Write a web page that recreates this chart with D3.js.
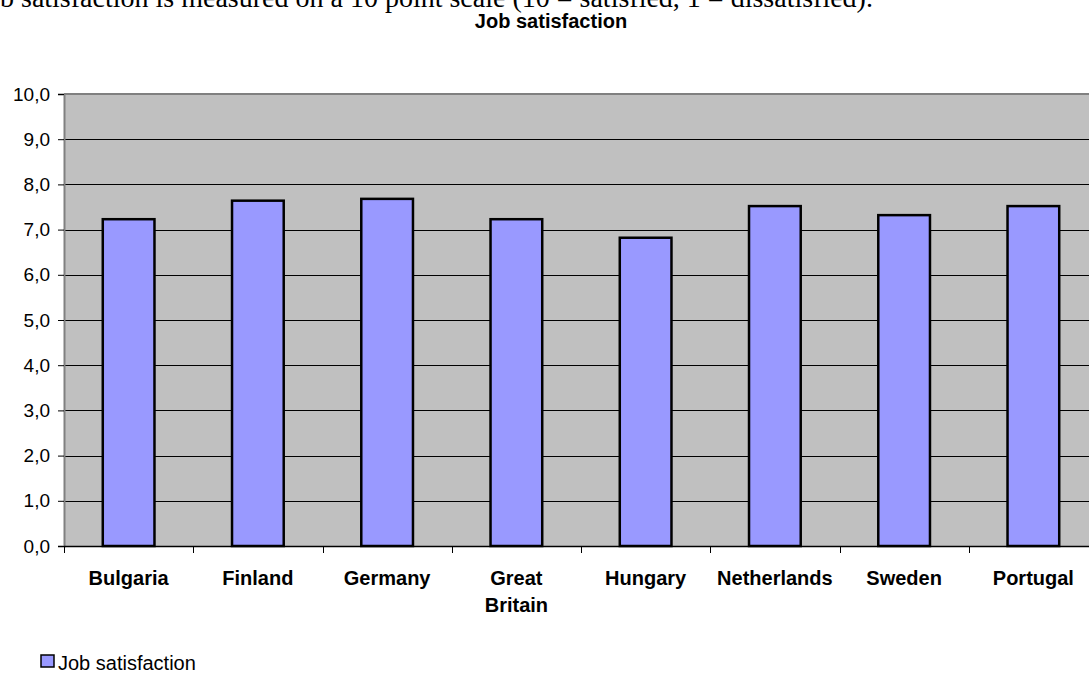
<!DOCTYPE html>
<html>
<head>
<meta charset="utf-8">
<script src="https://cdn.jsdelivr.net/npm/d3@7"></script>
<style>
  body { margin: 0; background: #fff; overflow: hidden; }
  svg { display: block; }
</style>
</head>
<body>
<script>
'use strict';

// data
var countries = ["Bulgaria", "Finland", "Germany", "Great Britain", "Hungary", "Netherlands", "Sweden", "Portugal"];
var satisfaction = [7.23, 7.64, 7.68, 7.23, 6.82, 7.52, 7.32, 7.52];
var yTicks = [0, 1, 2, 3, 4, 5, 6, 7, 8, 9, 10];
var seriesName = "Job satisfaction";
var chartTitle = "Job satisfaction";
var introText = "Job satisfaction is measured on a 10 point scale (10 = satisfied, 1 = dissatisfied).";

var dataset = countries.map(function(c, i) { return {Country: c, Value: satisfaction[i]}; });

var W = 1089, H = 673;
var plot = {left: 64, right: 1098, top: 94, bottom: 546};

var svg = d3.select("body").append("svg")
    .attr("width", W)
    .attr("height", H);

// cut-off sentence from the surrounding document ("Jo" falls off the left edge)
var intro = svg.append("text")
    .attr("y", 7)
    .style("font-family", "'Liberation Serif', 'Times New Roman', serif")
    .style("font-size", "28px")
    .text(introText);
var joWidth = intro.node().getSubStringLength(0, 2);
intro.attr("x", -joWidth);

// chart title
svg.append("text")
    .attr("x", 551)
    .attr("y", 28)
    .style("text-anchor", "middle")
    .style("font-family", "'Liberation Sans', Arial, sans-serif")
    .style("font-weight", "bold")
    .style("font-size", "20px")
    .text(chartTitle);

// scales
var xOuter = d3.scaleBand()
    .domain(countries)
    .range([plot.left, plot.right])
    .padding(0);

var x = d3.scaleBand()
    .domain(countries)
    .range([plot.left, plot.right])
    .paddingInner(0.6)
    .paddingOuter(0.3);

var y = d3.scaleLinear()
    .domain([0, 10])
    .range([plot.bottom, plot.top]);

// plot background
svg.append("rect")
    .attr("x", plot.left)
    .attr("y", plot.top)
    .attr("width", plot.right - plot.left)
    .attr("height", plot.bottom - plot.top)
    .style("fill", "#c0c0c0");

// gridlines
svg.append("g")
    .selectAll("line")
    .data(yTicks.filter(function(d) { return d > 0 && d < 10; }))
  .enter().append("line")
    .attr("x1", plot.left)
    .attr("x2", plot.right)
    .attr("y1", function(d) { return Math.round(y(d)) + 0.5; })
    .attr("y2", function(d) { return Math.round(y(d)) + 0.5; })
    .style("stroke", "#000")
    .style("stroke-width", 1);

// top border of plot area
svg.append("line")
    .attr("x1", plot.left)
    .attr("x2", plot.right)
    .attr("y1", plot.top)
    .attr("y2", plot.top)
    .style("stroke", "#808080")
    .style("stroke-width", 2);

// bars
svg.selectAll(".bar")
    .data(dataset)
  .enter().append("rect")
    .attr("class", "bar")
    .attr("x", function(d) { return x(d.Country); })
    .attr("width", x.bandwidth())
    .attr("y", function(d) { return y(d.Value); })
    .attr("height", function(d) { return y(0) - y(d.Value); })
    .style("fill", "#9999ff")
    .style("stroke", "#000")
    .style("stroke-width", 2.5);

// y axis
var fmt = d3.format(".1f");
var yAxis = svg.append("g")
    .attr("transform", "translate(" + plot.left + ",0)")
    .call(d3.axisLeft(y)
      .tickValues(yTicks)
      .tickSize(6)
      .tickPadding(8)
      .tickFormat(function(d) { return fmt(d).replace(".", ","); }));
yAxis.select(".domain").style("stroke", "#808080").style("stroke-width", 2);
yAxis.selectAll(".tick line").style("stroke", "#000");
yAxis.selectAll("text")
    .style("font-family", "'Liberation Sans', Arial, sans-serif")
    .style("font-size", "19px")
    .style("fill", "#000");

// x axis line + boundary ticks
svg.append("line")
    .attr("x1", plot.left)
    .attr("x2", plot.right)
    .attr("y1", plot.bottom + 0.5)
    .attr("y2", plot.bottom + 0.5)
    .style("stroke", "#000")
    .style("stroke-width", 1.5);

svg.append("g")
    .selectAll("line")
    .data(countries)
  .enter().append("line")
    .attr("x1", function(d) { return Math.round(xOuter(d)) + 0.5; })
    .attr("x2", function(d) { return Math.round(xOuter(d)) + 0.5; })
    .attr("y1", plot.bottom)
    .attr("y2", plot.bottom + 7)
    .style("stroke", "#000");

// category labels (wrapped when too wide for the category)
var labels = svg.append("g")
    .selectAll("text")
    .data(countries)
  .enter().append("text")
    .attr("x", function(d) { return xOuter(d) + xOuter.bandwidth() / 2; })
    .attr("y", 585)
    .style("text-anchor", "middle")
    .style("font-family", "'Liberation Sans', Arial, sans-serif")
    .style("font-weight", "bold")
    .style("font-size", "20px")
    .text(function(d) { return d; });

labels.each(function(d) {
  var t = d3.select(this);
  if (this.getComputedTextLength() > xOuter.bandwidth() * 0.85 && d.indexOf(" ") > 0) {
    var words = d.split(" ");
    var cx = t.attr("x");
    t.text(null);
    words.forEach(function(w, i) {
      t.append("tspan")
        .attr("x", cx)
        .attr("dy", i === 0 ? 0 : 27)
        .text(w);
    });
  }
});

// legend
var legend = svg.append("g").attr("transform", "translate(41,655)");
legend.append("rect")
    .attr("width", 13)
    .attr("height", 12)
    .style("fill", "#9999ff")
    .style("stroke", "#000")
    .style("stroke-width", 1.5);
legend.append("text")
    .attr("x", 17)
    .attr("y", 15)
    .style("font-family", "'Liberation Sans', Arial, sans-serif")
    .style("font-size", "20px")
    .text(seriesName);
</script>
</body>
</html>
